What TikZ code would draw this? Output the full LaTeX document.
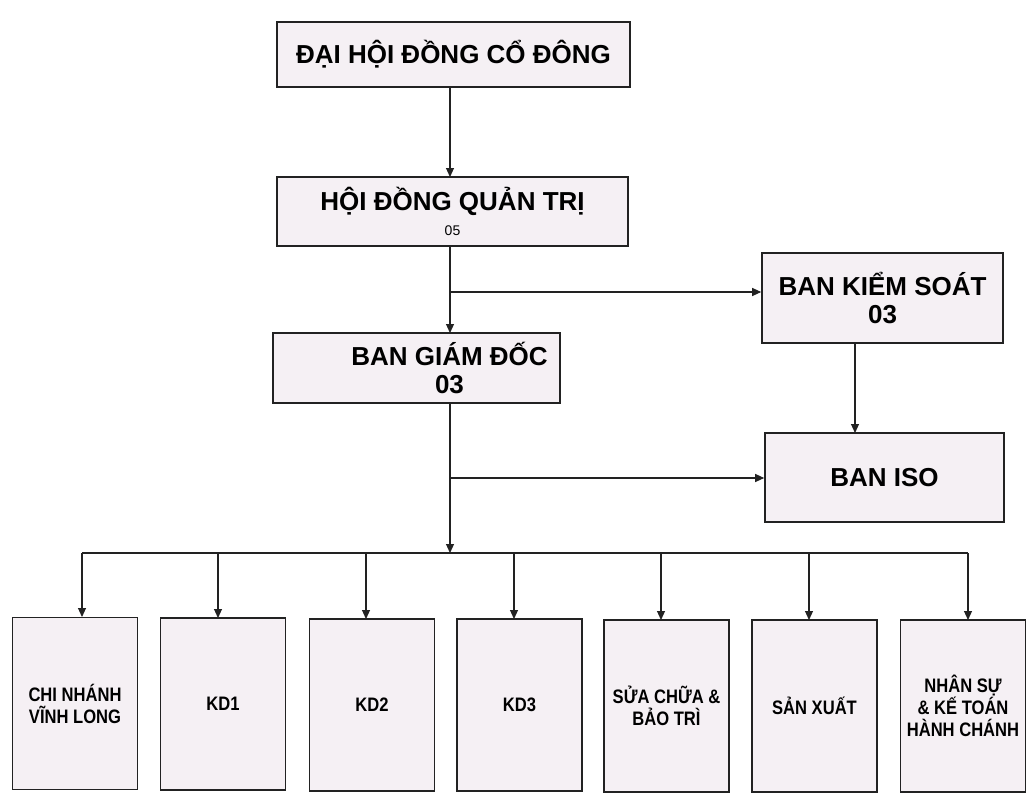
\documentclass[tikz,border=0pt]{standalone}
\usepackage{fontspec}
\setmainfont{Liberation Sans}
\newfontfamily\narrowfont[FakeStretch=0.85]{Liberation Sans}
\usetikzlibrary{arrows.meta}
\definecolor{boxfill}{HTML}{F5F0F4}
\definecolor{edge}{HTML}{222222}
\tikzset{
  box/.style={draw=edge, line width=1.6pt, fill=boxfill, align=center, inner sep=0pt},
  topbox/.style={box, font=\bfseries\fontsize{26}{28}\selectfont},
  lowbox/.style={box, minimum width=125pt, minimum height=172pt, font=\narrowfont\bfseries\fontsize{19.5}{22}\selectfont},
  conn/.style={draw=edge, line width=1.1pt},
  arr/.style={conn, -{Triangle[length=9pt,width=8pt]}}
}
\begin{document}
\begin{tikzpicture}[x=1pt,y=-1pt]
\useasboundingbox (0,0) rectangle (1026,796);
% top chain
\node[topbox, minimum width=353pt, minimum height=65pt] (dh) at (453.5,54.5) {ĐẠI HỘI ĐỒNG CỔ ĐÔNG};
\node[topbox, minimum width=351pt, minimum height=69pt] (hd) at (452.5,211.5) {HỘI ĐỒNG QUẢN TRỊ\\[-3pt]{\normalfont\fontsize{14}{16}\selectfont 05}};
\node[topbox, minimum width=287pt, minimum height=70pt,
  label={[font=\bfseries\fontsize{26}{28}\selectfont, align=center, xshift=33pt]center:BAN GIÁM ĐỐC\\03}] (bgd) at (416.5,368) {};
\node[topbox, minimum width=241pt, minimum height=90pt] (bks) at (882.5,298) {BAN KIỂM SOÁT\\03};
\node[topbox, minimum width=239pt, minimum height=89pt] (iso) at (884.5,477.5) {BAN ISO};
% bottom row
\node[lowbox] (b1) at (75,703.5) {CHI NHÁNH\\VĨNH LONG};
\node[lowbox] (b2) at (223,704) {KD1};
\node[lowbox] (b3) at (372,705) {KD2};
\node[lowbox] (b4) at (519.5,705) {KD3};
\node[lowbox] (b5) at (666.5,706) {SỬA CHỮA \&\\BẢO TRÌ};
\node[lowbox] (b6) at (814.5,706) {SẢN XUẤT};
\node[lowbox] (b7) at (963,706) {NHÂN SỰ\\\& KẾ TOÁN\\HÀNH CHÁNH};
% connectors
\coordinate (j1) at (450,292);
\coordinate (j2) at (450,478);
\coordinate (bus) at (450,553);
\draw[arr] (450,87) -- (450,177);
\draw[arr] (450,246) -- (450,333);
\draw[arr] (j1) -- (bks.west |- j1);
\draw[arr] (855,343) -- (855,433);
\draw[arr] (450,403) -- (bus);
\draw[arr] (j2) -- (iso.west |- j2);
\draw[conn] (82,553) -- (968,553);
\draw[arr] (82,553) -- (82,617);
\draw[arr] (218,553) -- (218,618);
\draw[arr] (366,553) -- (366,619);
\draw[arr] (514,553) -- (514,619);
\draw[arr] (661,553) -- (661,620);
\draw[arr] (809,553) -- (809,620);
\draw[arr] (968,553) -- (968,620);
\end{tikzpicture}
\end{document}
